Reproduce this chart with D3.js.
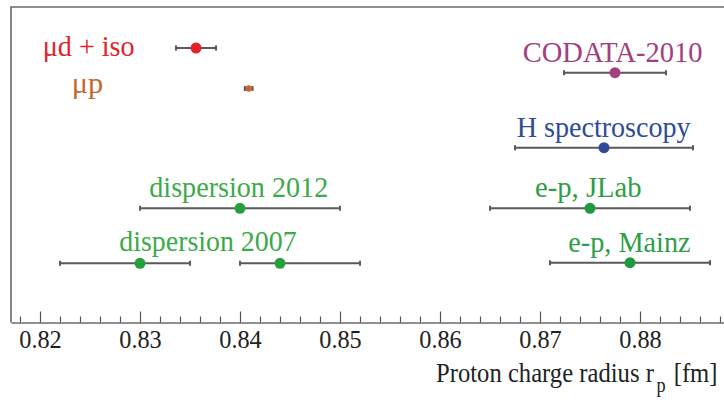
<!DOCTYPE html>
<html>
<head>
<meta charset="utf-8">
<script src="https://cdn.jsdelivr.net/npm/d3@7"></script>
<style>
  html, body { margin: 0; padding: 0; background: #fff; }
  svg { display: block; }
</style>
</head>
<body>
<svg id="chart" width="724" height="402"></svg>
<script>
// Proton charge radius determinations (fm)
const pointLabel = ["μd + iso", "μp", "CODATA-2010", "H spectroscopy", "dispersion 2012",
                    "dispersion 2007", "dispersion 2007", "e-p, JLab", "e-p, Mainz"];
const radius   = [0.8356, 0.84087, 0.8775, 0.8764, 0.840, 0.830, 0.844, 0.875, 0.879];
const errMinus = [0.0020, 0.00039, 0.0051, 0.0089, 0.010, 0.008, 0.004, 0.010, 0.008];
const errPlus  = [0.0020, 0.00039, 0.0051, 0.0089, 0.010, 0.005, 0.008, 0.010, 0.008];
const majorTicks = [0.82, 0.83, 0.84, 0.85, 0.86, 0.87, 0.88];
const axisTitle = "Proton charge radius r";
const axisSub = "p";
const axisUnit = " [fm]";

const SERIF = "'Liberation Serif', 'Times New Roman', Times, serif";

// Layout for each labelled group: row height, label placement and colour
const groups = {
  "μd + iso":        { y: 48,    lx: 42.7,  ly: 56,    lw: 92,  text: "#e2232a", mark: "#e2232a", r: 5.5 },
  "μp":              { y: 88.5,  lx: 71.7,  ly: 93,    lw: 31.5,text: "#c4682e", mark: "#c4682e", r: 3.2 },
  "CODATA-2010":     { y: 72.7,  lx: 522.7, ly: 62.5,  lw: 180, text: "#a2407f", mark: "#a2407f", r: 5.5 },
  "H spectroscopy":  { y: 147.7, lx: 516.7, ly: 137.5, lw: 174, text: "#2f4a99", mark: "#2f4a99", r: 5.5 },
  "dispersion 2012": { y: 208.3, lx: 149.3, ly: 196.7, lw: 179, text: "#3caa4a", mark: "#25a03c", r: 5.5 },
  "dispersion 2007": { y: 263.3, lx: 119.3, ly: 250.7, lw: 177.4, text: "#3caa4a", mark: "#25a03c", r: 5.5 },
  "e-p, JLab":       { y: 208.3, lx: 535,   ly: 196.7, lw: 106.7, text: "#2e9e47", mark: "#1f9a3e", r: 5.5 },
  "e-p, Mainz":      { y: 262.7, lx: 568.3, ly: 251.7, lw: 122.4, text: "#2e9e47", mark: "#1f9a3e", r: 5.5 }
};

// squeeze a text element horizontally so it spans `width` px from its left edge
function fitWidth(sel, x0, width) {
  const w = sel.node().getComputedTextLength();
  sel.attr("transform", `translate(${x0},0) scale(${width / w},1) translate(${-x0},0)`);
}

const svg = d3.select("#chart").style("font-family", SERIF);
const frameLeft = 11, frameTop = 7, axisY = 322.5;

const x = d3.scaleLinear().domain([0.8171, 0.8884]).range([11, 724]);

// frame: left and top edges
svg.append("path")
  .attr("d", `M${frameLeft},${axisY}V${frameTop}H724`)
  .attr("fill", "none").attr("stroke", "#6a6a6a").attr("stroke-width", 1.6);

// minor ticks every 0.002
const minorTicks = d3.range(0.818, 0.8884, 0.002).filter(v => !majorTicks.some(m => Math.abs(m - v) < 1e-6));
const axisG = svg.append("g").attr("transform", `translate(0,${axisY})`);
axisG.append("g")
  .call(d3.axisBottom(x).tickValues(minorTicks).tickSize(-6).tickFormat(""))
  .call(g => g.select(".domain").remove())
  .call(g => g.selectAll("line").attr("stroke", "#555").attr("stroke-width", 1.2));
axisG.append("g")
  .call(d3.axisBottom(x).tickValues(majorTicks).tickSize(-11).tickSizeOuter(0).tickFormat(d3.format(".2f")))
  .attr("font-family", null)
  .call(g => g.select(".domain").attr("stroke", "#6a6a6a").attr("stroke-width", 1.6))
  .call(g => g.selectAll("line").attr("stroke", "#555").attr("stroke-width", 1.2))
  .call(g => g.selectAll("text")
    .attr("y", 25.5).attr("dy", 0)
    .style("font-family", SERIF)
    .style("font-size", "26px")
    .attr("fill", "#222")
    .each(function () {
      const w = this.getComputedTextLength();
      d3.select(this).attr("transform", `scale(${42.5 / w},1)`);
    }));

// axis title with subscript
const title = svg.append("text")
  .attr("x", 436).attr("y", 382)
  .style("font-family", SERIF)
  .style("font-size", "27px").attr("fill", "#222");
title.append("tspan").text(axisTitle);
title.append("tspan").style("font-size", "20px").attr("dx", 3).attr("dy", 10).text(axisSub);
title.append("tspan").attr("dy", -10).attr("dx", 2).text(axisUnit);
fitWidth(title, 436, 713 - 436);

// group labels
svg.append("g").selectAll("text")
  .data(Object.keys(groups))
  .join("text")
  .attr("x", d => groups[d].lx)
  .attr("y", d => groups[d].ly)
  .style("font-family", SERIF)
  .style("font-size", "30px")
  .attr("fill", d => groups[d].text)
  .text(d => d)
  .each(function (d) { fitWidth(d3.select(this), groups[d].lx, groups[d].lw); });

// measurements: error bars with end caps, then points
const data = radius.map((v, i) => ({ label: pointLabel[i], v, lo: v - errMinus[i], hi: v + errPlus[i] }));
const marks = svg.append("g");
const cap = 2.5;
marks.selectAll("path.bar")
  .data(data)
  .join("path")
  .attr("class", "bar")
  .attr("fill", "none")
  .attr("stroke", "#5a5a5a")
  .attr("stroke-width", 2)
  .attr("d", d => {
    const y = groups[d.label].y, a = x(d.lo), b = x(d.hi);
    return `M${a},${y}H${b}M${a},${y - cap}V${y + cap}M${b},${y - cap}V${y + cap}`;
  });
marks.selectAll("circle")
  .data(data)
  .join("circle")
  .attr("cx", d => x(d.v))
  .attr("cy", d => groups[d.label].y)
  .attr("r", d => groups[d.label].r)
  .attr("fill", d => groups[d.label].mark);
</script>
</body>
</html>
